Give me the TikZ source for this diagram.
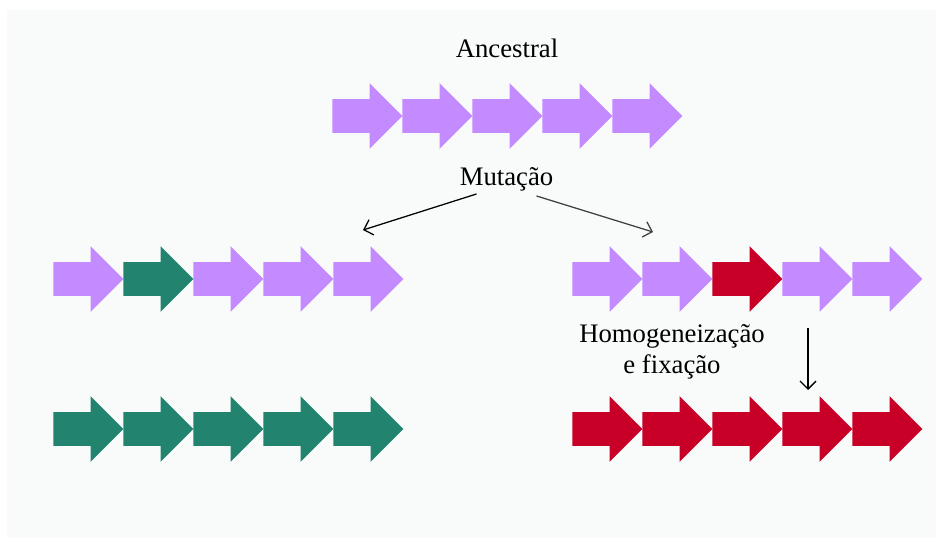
\documentclass[tikz,border=0pt]{standalone}
\usepackage{fontspec}
\setmainfont{Liberation Serif}
\usetikzlibrary{shapes.arrows,arrows.meta,calc}
\definecolor{Lilas}{HTML}{C48AFF}
\definecolor{VerdeMar}{HTML}{22836F}
\definecolor{Carmim}{HTML}{C80028}
\definecolor{Fundo}{HTML}{F9FBFB}

\begin{document}
\begin{tikzpicture}[
      x=0.025cm, y=-0.025cm,
      gene/.style={
        single arrow, draw=none, fill=#1, anchor=tail,
        inner sep=0pt, text height=0.825cm, text depth=0pt,
        minimum height=1.75cm, minimum width=1.625cm,
        single arrow head extend=0.4cm, single arrow tip angle=90
      },
      rotulo/.style={font=\fontsize{19pt}{22.5pt}\selectfont, inner sep=0pt},
      seta/.style={-{Straight Barb[length=2mm,width=4mm]}, line width=0.9pt}
    ]
      % fundo
      \fill[white] (0,0) rectangle (944,548);
      \fill[Fundo] (7,10) rectangle (936,538);

      % sequencia ancestral
      \node[rotulo, anchor=base] (ancestral) at (507,57) {Ancestral};
      \foreach \i in {0,...,4}
        \node[gene=Lilas] (anc\i) at (332+70*\i,116) {};

      % mutacoes
      \node[rotulo, anchor=base] (mutacao) at (506.5,185) {Mutação};
      \foreach \cor [count=\i from 0] in {Lilas,VerdeMar,Lilas,Lilas,Lilas}
        \node[gene=\cor] (esq\i) at (53+70*\i,279) {};
      \foreach \cor [count=\i from 0] in {Lilas,Lilas,Carmim,Lilas,Lilas}
        \node[gene=\cor] (dir\i) at (572+70*\i,279) {};
      \coordinate (esqAlvo) at (363,230);
      \coordinate (dirAlvo) at (653,232);
      \draw[seta] ($(mutacao.south)+(-30,3)$) -- (esqAlvo);
      \draw[seta, black!75] ($(mutacao.south)+(30,5)$) -- (dirAlvo);

      % homogeneizacao e fixacao
      \node[rotulo, align=center] (homog) at (672,352) {Homogeneização\\e fixação};
      \coordinate (fixIni) at (808,328);
      \coordinate (fixFim) at (808,390);
      \draw[seta] (fixIni) -- (fixFim);
      \foreach \i in {0,...,4}
        \node[gene=VerdeMar] (esqF\i) at (53+70*\i,429) {};
      \foreach \i in {0,...,4}
        \node[gene=Carmim] (dirF\i) at (572+70*\i,429) {};
    \end{tikzpicture}
\end{document}
